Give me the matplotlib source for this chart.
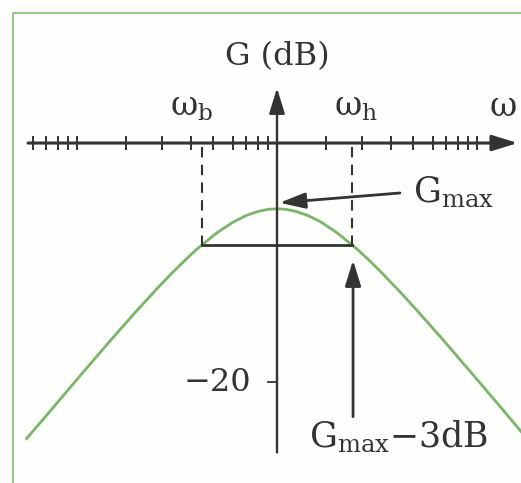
import matplotlib.pyplot as plt
from matplotlib.lines import Line2D

plt.rcParams['font.family'] = 'DejaVu Serif'
plt.rcParams['mathtext.fontset'] = 'dejavuserif'

# gain of the band-pass filter (dB) vs angular frequency
omega = [0.56, 0.7, 1, 1.5, 2, 2.5, 3, 3.5, 4, 5, 6, 7, 8, 9, 10,
         11.1, 12.5, 14.3, 16.7, 20, 25, 28.6, 33.3, 40, 50, 66.7, 100, 143, 170]
gain_db = [-24.73, -22.84, -19.78, -16.35, -13.99, -12.22, -10.84, -9.74, -8.84, -7.52,
           -6.64, -6.07, -5.73, -5.55, -5.5,
           -5.55, -5.73, -6.07, -6.64, -7.52, -8.84, -9.74, -10.84, -12.22, -13.99,
           -16.35, -19.78, -22.84, -24.34]

omega_0 = 10
g_max = -5.5
omega_b = 4.22
omega_h = 23.7

# graduation of the log frequency axis
axis_ticks = [0.6, 0.7, 0.8, 0.9, 1,
              1.75, 2.65, 3.7, 4.8, 6, 7, 8, 9,
              17.5, 26.5, 37, 48, 60, 70, 80, 90, 100]
g_tick = -20

ink = '#333333'
green = '#7ab56a'

fig = plt.figure(figsize=(5.21, 4.83), dpi=100)
fig.patch.set_facecolor('#fefefd')
ax = fig.add_axes([0, 0, 1, 1])
ax.set_xscale('log')
ax.set_xlim(10 ** -0.385, 10 ** 2.22)
ax.set_ylim(-28.45, 11.97)
ax.axis('off')

# green frame
fig.add_artist(Line2D([0.025, 0.025, 1.0], [0.0, 0.973, 0.973],
                      transform=fig.transFigure, color='#9cc894', lw=1.5))

arrow = dict(arrowstyle='-|>,head_length=0.65,head_width=0.2', mutation_scale=24,
             shrinkA=0, shrinkB=0, color=ink)

# axes with arrowheads
ax.annotate('', xy=(160, 0), xytext=(0.569, 0), arrowprops=dict(arrow, lw=2.2))
ax.annotate('', xy=(omega_0, 4.6), xytext=(omega_0, -25.9), arrowprops=dict(arrow, lw=1.7))
ax.plot(axis_ticks, [0] * len(axis_ticks), '|', ms=10, mew=1.4, color=ink)
ax.plot([omega_0 / 1.11, omega_0], [g_tick, g_tick], color=ink, lw=1.3)

# response curve
ax.plot(omega, gain_db, color=green, lw=2)

# cut-off construction
g3 = g_max - 3
ax.plot([omega_b, omega_b], [-0.35, g3], color=ink, lw=1.5, ls=(0, (5, 3.5)))
ax.plot([omega_h, omega_h], [-0.35, g3], color=ink, lw=1.5, ls=(0, (5, 3.5)))
ax.plot([omega_b, omega_h], [g3, g3], color=ink, lw=2)

# labels
fs = 25
ax.text(omega_0, 6.5, 'G (dB)', fontsize=23, ha='center', va='baseline', color=ink)
ax.text(3.75, 2.3, r'ω$_\mathrm{b}$', fontsize=24, ha='center', va='baseline', color=ink)
ax.text(24.8, 2.3, r'ω$_\mathrm{h}$', fontsize=24, ha='center', va='baseline', color=ink)
ax.text(116, 2.3, 'ω', fontsize=24, ha='left', va='baseline', color=ink)
ax.text(7.4, g_tick, '−20', fontsize=23, ha='right', va='center', color=ink)

ax.annotate('', xy=(10.3, g_max + 0.5), xytext=(41.2, -4.18), arrowprops=dict(arrow, lw=2))
ax.text(48, -4.94, r'$\mathrm{G_{max}}$', fontsize=fs, ha='left', va='baseline', color=ink)

ax.annotate('', xy=(24, g3 - 1.3), xytext=(24, -22.9), arrowprops=dict(arrow, lw=2))
ax.text(14.4, -25.5, r'$\mathrm{G_{max}{-}3dB}$', fontsize=fs, ha='left', va='baseline', color=ink)

fig.savefig('out.png', dpi=100, facecolor=fig.get_facecolor())
